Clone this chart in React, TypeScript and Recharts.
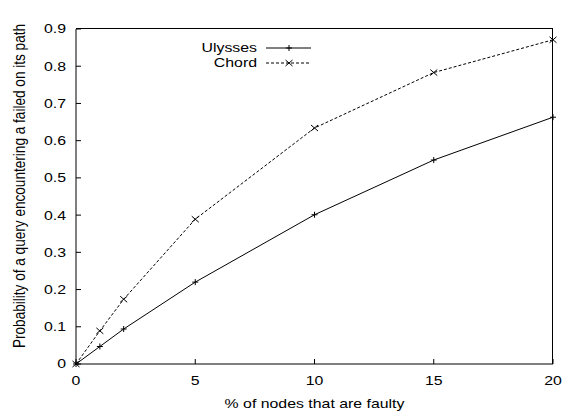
import {
  LineChart,
  Line,
  XAxis,
  YAxis,
  Legend,
} from "recharts";

const faultyPct = [0, 1, 2, 5, 10, 15, 20];
const ulysses = [0, 0.047, 0.094, 0.22, 0.401, 0.548, 0.663];
const chord = [0, 0.089, 0.174, 0.389, 0.634, 0.783, 0.871];
const xTicks = [0, 5, 10, 15, 20];
const yTicks = [0, 0.1, 0.2, 0.3, 0.4, 0.5, 0.6, 0.7, 0.8, 0.9];
const seriesOrder = ["ulysses", "chord"];

const data = faultyPct.map((x, i) => ({ x, ulysses: ulysses[i], chord: chord[i] }));

const X_MAX = 20;
const Y_MAX = 0.9;

const FONT = "'Liberation Sans', Arial, Helvetica, sans-serif";
// the source image is stretched sideways, so text is widened to match
const SX = 1.22;
const TICK = 5;

const W = 565;
const H = 415;
const M = { top: 29, right: 12, left: 76, bottom: 51 };

const PlusDot = (props: any) => {
  const { cx, cy, index } = props;
  return (
    <path
      key={"p" + index}
      d={`M${cx - 3},${cy}h6M${cx},${cy - 3}v6`}
      stroke="#000"
      strokeWidth={1}
      fill="none"
    />
  );
};

const CrossDot = (props: any) => {
  const { cx, cy, index } = props;
  return (
    <path
      key={"c" + index}
      d={`M${cx - 3.5},${cy - 3}l7,6M${cx - 3.5},${cy + 3}l7,-6`}
      stroke="#000"
      strokeWidth={1}
      fill="none"
    />
  );
};

const XTick = (props: any) => {
  const { x, y, payload } = props;
  return (
    <text
      transform={`translate(${x},${y}) scale(${SX},1)`}
      textAnchor="middle"
      dy="0.71em"
      fontFamily={FONT}
      fontSize={13}
      fill="#000"
    >
      {payload.value}
    </text>
  );
};

const YTick = (props: any) => {
  const { x, y, payload } = props;
  return (
    <text
      transform={`translate(${x},${y}) scale(${SX},1)`}
      textAnchor="end"
      dominantBaseline="central"
      fontFamily={FONT}
      fontSize={13}
      fill="#000"
    >
      {payload.value}
    </text>
  );
};

const renderLegend = (props: any) => {
  const items = [...(props.payload || [])]
    .filter((a: any) => seriesOrder.includes(a.dataKey))
    .sort((a: any, b: any) => seriesOrder.indexOf(a.dataKey) - seriesOrder.indexOf(b.dataKey));
  return (
    <div style={{ position: "relative", width: 1, height: 1, pointerEvents: "none" }}>
      {items.map((it: any, i: number) => {
        const top = 48 + i * 15;
        const dashed = it.dataKey === "chord";
        return (
          <div key={it.value}>
            <div
              style={{
                position: "absolute",
                left: 0,
                width: 257,
                textAlign: "right",
                top: top - 8,
                fontFamily: FONT,
                fontSize: 13,
                lineHeight: "16px",
                color: "#000",
                whiteSpace: "nowrap",
                transform: `scale(${SX},1)`,
                transformOrigin: "257px 0",
              }}
            >
              {it.value}
            </div>
            <svg
              style={{ position: "absolute", left: 266, top: top - 5 }}
              width={46}
              height={10}
            >
              <line
                x1={0}
                y1={5}
                x2={45}
                y2={5}
                stroke="#000"
                strokeDasharray={dashed ? "3 2" : undefined}
              />
              {dashed ? (
                <path d="M19.5,2l7,6M19.5,8l7,-6" stroke="#000" fill="none" />
              ) : (
                <path d="M20,5h6M23,2v6" stroke="#000" fill="none" />
              )}
            </svg>
          </div>
        );
      })}
    </div>
  );
};

const yLabel = (props: any) => {
  const vb = props.viewBox;
  const x = vb.x + 19;
  const y = 186;
  return (
    <text
      transform={`translate(${x},${y}) rotate(-90) scale(1,${SX})`}
      textAnchor="middle"
      dominantBaseline="central"
      fontFamily={FONT}
      fontSize={13.6}
      fill="#000"
    >
      Probability of a query encountering a failed on its path
    </text>
  );
};

const xLabel = (props: any) => {
  const vb = props.viewBox;
  const x = vb.x + vb.width / 2;
  const y = 404;
  return (
    <text
      transform={`translate(${x},${y}) scale(${SX},1)`}
      textAnchor="middle"
      dominantBaseline="central"
      fontFamily={FONT}
      fontSize={13}
      fill="#000"
    >
      % of nodes that are faulty
    </text>
  );
};

export default function App() {
  return (
    <div style={{ position: "absolute", left: 0, top: 0, width: W, height: H, background: "#fff" }}>
      <LineChart
        width={W}
        height={H}
        data={data}
        margin={{ top: M.top, right: M.right, left: 0, bottom: 0 }}
      >
        <XAxis
          dataKey="x"
          type="number"
          domain={[0, X_MAX]}
          ticks={xTicks}
          height={M.bottom}
          stroke="#000"
          tickSize={-TICK}
          tickMargin={17}
          tick={XTick}
          label={{ content: xLabel }}
        />
        <YAxis
          type="number"
          domain={[0, Y_MAX]}
          ticks={yTicks}
          width={M.left}
          stroke="#000"
          tickSize={-TICK}
          tickMargin={15}
          tick={YTick}
          label={{ content: yLabel }}
        />
        <Legend
          content={renderLegend}
          layout="horizontal"
          verticalAlign="middle"
          align="center"
          wrapperStyle={{ position: "absolute", left: 0, top: 0, width: 1, height: 1 }}
        />
        <Line
          dataKey="ulysses"
          name="Ulysses"
          stroke="#000"
          strokeWidth={1}
          dot={PlusDot}
          activeDot={false}
          isAnimationActive={false}
        />
        <Line
          dataKey="chord"
          name="Chord"
          stroke="#000"
          strokeWidth={1}
          strokeDasharray="3 2"
          dot={CrossDot}
          activeDot={false}
          isAnimationActive={false}
        />
      </LineChart>
      {/* top and right edges of the plot frame */}
      <div
        style={{
          position: "absolute",
          left: M.left,
          top: M.top - 1,
          width: W - M.left - M.right,
          height: H - M.top - M.bottom + 1,
          boxSizing: "border-box",
          borderTop: "1px solid #000",
          borderRight: "1px solid #000",
          pointerEvents: "none",
        }}
      />
    </div>
  );
}
